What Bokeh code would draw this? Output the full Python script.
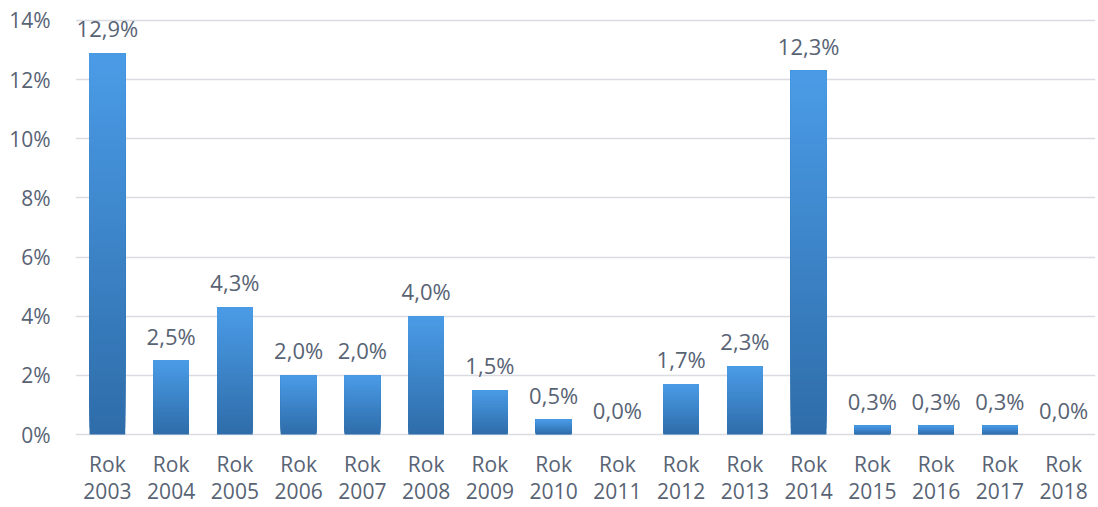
import numpy as np
from bokeh.plotting import figure
from bokeh.models import ColumnDataSource, FactorRange, Range1d
from bokeh.core.properties import value
from bokeh.embed import file_html
from bokeh.resources import INLINE

years = ["2003", "2004", "2005", "2006", "2007", "2008", "2009", "2010",
         "2011", "2012", "2013", "2014", "2015", "2016", "2017", "2018"]
values = [12.9, 2.5, 4.3, 2.0, 2.0, 4.0, 1.5, 0.5, 0.0, 1.7, 2.3, 12.3, 0.3, 0.3, 0.3, 0.0]
y_ticks = [0, 2, 4, 6, 8, 10, 12, 14]
y_tick_labels = ["0%", "2%", "4%", "6%", "8%", "10%", "12%", "14%"]
cat_prefix = "Rok"

labels = [("%.1f%%" % v).replace(".", ",") for v in values]

FONT = "Open Sans"
TEXT_COLOR = "#586374"
TOP = np.array([0x4a, 0x9b, 0xe6])
BOT = np.array([0x2f, 0x6d, 0xaa])

p = figure(width=1098, height=507, x_range=FactorRange(*years),
           y_range=Range1d(-2.468, 14.2), output_backend="svg", toolbar_location=None,
           min_border_left=75, min_border_right=3, min_border_top=14, min_border_bottom=0)
p.outline_line_color = None
p.background_fill_color = "white"

# gradient bars: overlapping slices of each value, each running up to the bar top
N = 60
xs, bots, tops, cols = [], [], [], []
for f, v in zip(years, values):
    if v <= 0:
        continue
    for k in range(N):
        t = k / (N - 1)
        c = BOT + (TOP - BOT) * t
        xs.append(f)
        bots.append(v * k / N)
        tops.append(v)
        cols.append("#%02x%02x%02x" % tuple(int(round(a)) for a in c))
src = ColumnDataSource(dict(x=xs, bottom=bots, top=tops, color=cols))
p.vbar(x="x", bottom="bottom", top="top", width=0.56, source=src,
       fill_color="color", line_color=None)

# value labels above bars
lab_src = ColumnDataSource(dict(x=years, y=values, text=labels))
p.text(x="x", y="y", text="text", source=lab_src, y_offset=-25,
       text_align="center", text_baseline="middle",
       text_font=value(FONT), text_font_size="22px", text_color=TEXT_COLOR)

# two-line category labels below the baseline
cat_src = ColumnDataSource(dict(x=years, y=[0] * len(years),
                                top=[cat_prefix] * len(years), bottom=years))
p.text(x="x", y="y", text="top", source=cat_src, y_offset=29,
       text_align="center", text_baseline="middle",
       text_font=value(FONT), text_font_size="21px", text_color=TEXT_COLOR)
p.text(x="x", y="y", text="bottom", source=cat_src, y_offset=56,
       text_align="center", text_baseline="middle",
       text_font=value(FONT), text_font_size="21px", text_color=TEXT_COLOR)

p.xaxis.visible = False
p.xgrid.grid_line_color = None
p.ygrid.grid_line_color = "#d9dce1"
p.ygrid.grid_line_width = 1.5
p.yaxis.ticker = y_ticks
p.yaxis.major_label_overrides = {t: l for t, l in zip(y_ticks, y_tick_labels)}
p.yaxis.axis_line_color = None
p.yaxis.major_tick_line_color = None
p.yaxis.minor_tick_line_color = None
p.yaxis.major_label_text_font = FONT
p.yaxis.major_label_text_font_size = "21px"
p.yaxis.major_label_text_color = TEXT_COLOR
p.yaxis.major_label_standoff = 19

open("out.html", "w").write(file_html(p, INLINE))
